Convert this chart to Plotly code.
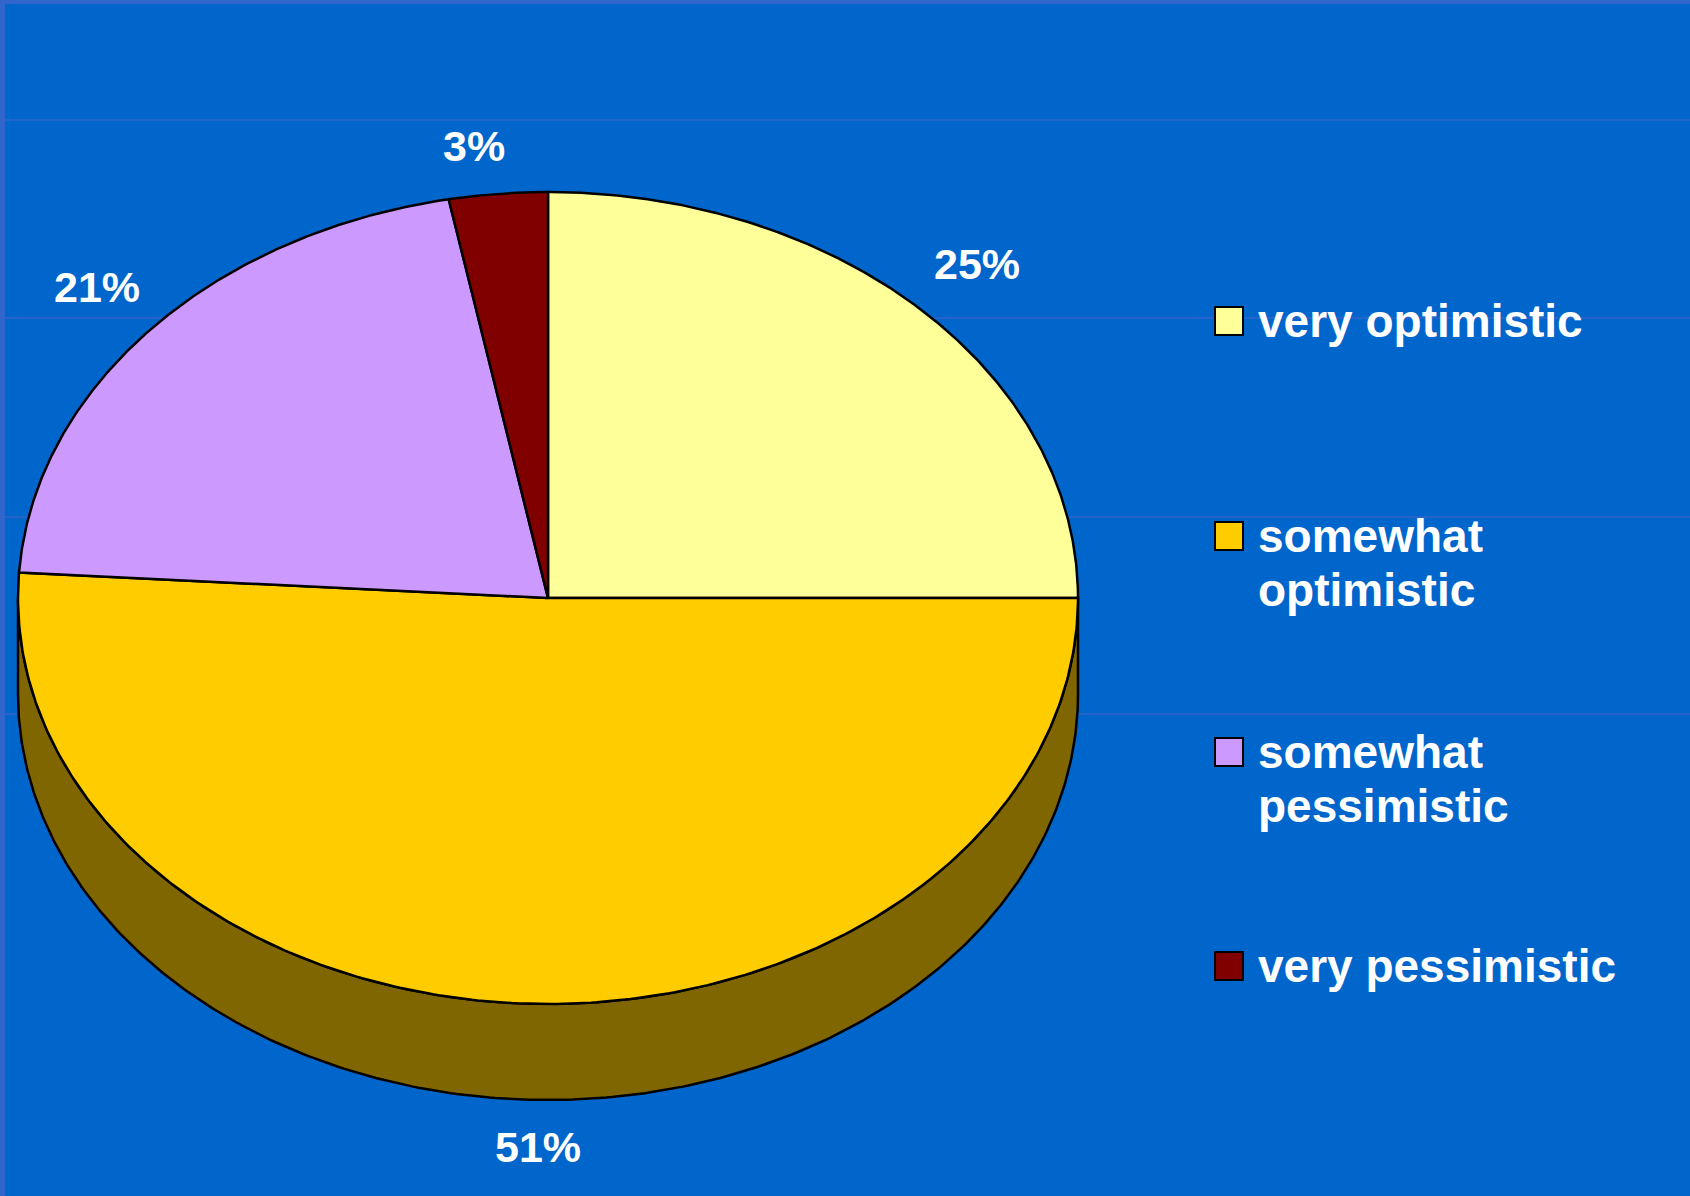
import numpy as np
import plotly.graph_objects as go

# Survey outlook shares
categories = ["very optimistic", "somewhat optimistic", "somewhat pessimistic", "very pessimistic"]
shares = [25, 51, 21, 3]
slice_colors = ["#FFFF99", "#FFCC00", "#CC99FF", "#800000"]
legend_lines = [["very optimistic"], ["somewhat", "optimistic"], ["somewhat", "pessimistic"], ["very pessimistic"]]

W, H = 1690, 1196
BG = "#0066CC"
FONT = "Liberation Sans, Arial, sans-serif"

# tilted pie geometry (pixel space)
cx, cy, rx, ry, depth = 548, 598, 530, 406, 96

# data label anchor points (pixel space), one per slice
label_pos = [(977, 264), (538, 1147), (97, 287), (474, 146)]


def ellipse(theta_deg, dy=0.0):
    t = np.radians(theta_deg)
    return cx + rx * np.sin(t), cy - ry * np.cos(t) + dy


def darker(hex_color, f=0.5):
    h = hex_color.lstrip("#")
    r, g, b = (int(h[i:i + 2], 16) for i in (0, 2, 4))
    return "#%02X%02X%02X" % (int(r * f), int(g * f), int(b * f))


total = float(sum(shares))
bounds = np.concatenate([[0.0], np.cumsum(shares) / total * 360.0])

fig = go.Figure()

# side walls of the front half
for i, col in enumerate(slice_colors):
    a0, a1 = max(bounds[i], 90.0), min(bounds[i + 1], 270.0)
    if a1 <= a0:
        continue
    th = np.linspace(a0, a1, 300)
    tx, ty = ellipse(th)
    bx, by = ellipse(th[::-1], depth)
    xs = np.concatenate([tx, bx, tx[:1]])
    ys = np.concatenate([ty, by, ty[:1]])
    fig.add_trace(go.Scatter(x=xs, y=ys, mode="lines", fill="toself",
                             fillcolor=darker(col), line=dict(color="black", width=2.5),
                             hoverinfo="skip", showlegend=False))

# top faces
for i, col in enumerate(slice_colors):
    th = np.linspace(bounds[i], bounds[i + 1], 300)
    ax_, ay_ = ellipse(th)
    xs = np.concatenate([[cx], ax_, [cx]])
    ys = np.concatenate([[cy], ay_, [cy]])
    fig.add_trace(go.Scatter(x=xs, y=ys, mode="lines", fill="toself",
                             fillcolor=col, line=dict(color="black", width=2.5),
                             hoverinfo="skip", showlegend=False))

# percentage labels
annotations = []
for v, (lx, ly) in zip(shares, label_pos):
    annotations.append(dict(x=lx, y=ly, xref="x", yref="y", text="<b>%d%%</b>" % v,
                            showarrow=False, xanchor="center", yanchor="middle",
                            font=dict(family=FONT, size=43, color="white")))

# legend keys and text
key_x, text_x = 1229, 1256
row_y = [321, 536, 752, 966]
line_gap = 54
fig.add_trace(go.Scatter(x=[key_x] * len(categories), y=row_y, mode="markers",
                         marker=dict(symbol="square", size=28, color=slice_colors,
                                     line=dict(color="black", width=2)),
                         hoverinfo="skip", showlegend=False))
for y0, lines in zip(row_y, legend_lines):
    for j, txt in enumerate(lines):
        annotations.append(dict(x=text_x, y=y0 + j * line_gap, xref="x", yref="y",
                                text="<b>%s</b>" % txt, showarrow=False,
                                xanchor="left", yanchor="middle",
                                font=dict(family=FONT, size=46, color="white")))

shapes = []
for gy in [120, 318, 517, 714]:
    shapes.append(dict(type="line", xref="x", yref="y", x0=5, x1=W, y0=gy, y1=gy,
                       line=dict(color="#4A62C8", width=1), layer="below"))
shapes.append(dict(type="rect", xref="x", yref="y", x0=0, x1=W, y0=0, y1=4,
                   fillcolor="#3366CC", line=dict(width=0), layer="below"))
shapes.append(dict(type="rect", xref="x", yref="y", x0=0, x1=5, y0=0, y1=H,
                   fillcolor="#3366CC", line=dict(width=0), layer="below"))

fig.update_layout(
    width=W, height=H,
    margin=dict(l=0, r=0, t=0, b=0),
    paper_bgcolor=BG, plot_bgcolor=BG,
    xaxis=dict(range=[0, W], visible=False, fixedrange=True),
    yaxis=dict(range=[H, 0], visible=False, fixedrange=True),
    annotations=annotations, shapes=shapes,
    showlegend=False,
)

fig.write_html("out.html", config={"displayModeBar": False})
